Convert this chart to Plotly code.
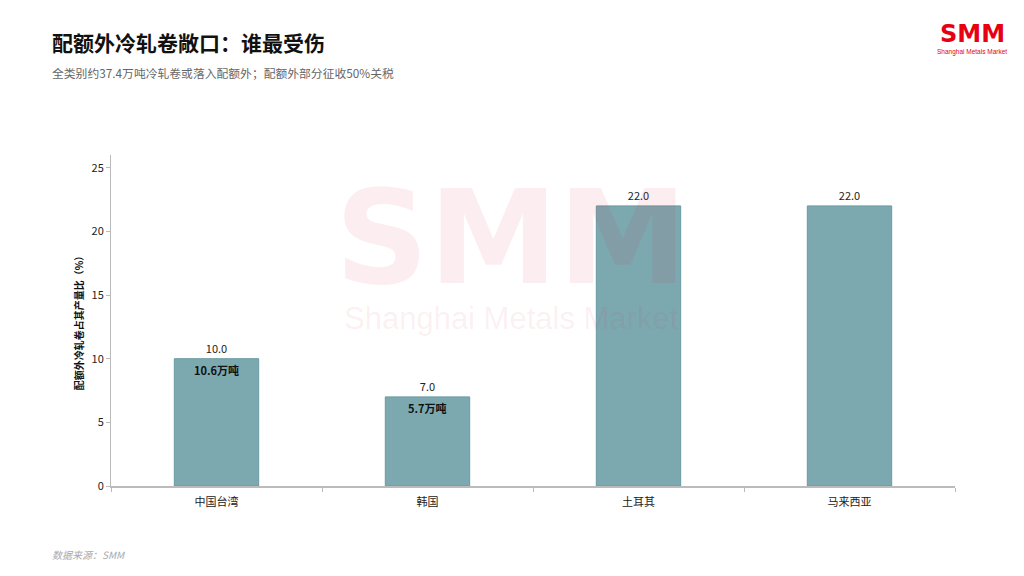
import plotly.graph_objects as go

# data
regions = ["中国台湾", "韩国", "土耳其", "马来西亚"]
share_pct = [10.0, 7.0, 22.0, 22.0]
tonnage = ["10.6万吨", "5.7万吨", "", ""]

title = "配额外冷轧卷敞口：谁最受伤"
subtitle = "全类别约37.4万吨冷轧卷或落入配额外；配额外部分征收50%关税"
ytitle = "配额外冷轧卷占其产量比（%）"
source = "数据来源：SMM"

FONT = "Noto Sans CJK SC"

# plot area in pixels
L, R, T, B = 111, 69, 155, 90


def px_x(px):
    return (px - L) / (1024 - L - R)


def px_y(py):
    return (576 - B - py) / (576 - T - B)


fig = go.Figure()
fig.add_trace(go.Bar(
    x=regions,
    y=share_pct,
    width=0.4,
    marker=dict(color="#7ca8b0", line=dict(color="#6a9aa3", width=1)),
    text=[f"{v:.1f}" for v in share_pct],
    textposition="outside",
    textfont=dict(size=11, color="#222222", family=FONT),
    cliponaxis=False,
    hoverinfo="x+y",
))

# tonnage labels inside bars
for r, v, t in zip(regions, share_pct, tonnage):
    if t:
        fig.add_annotation(x=r, y=v, xref="x", yref="y", text=f"<b>{t}</b>", showarrow=False,
                           yanchor="top", yshift=-1,
                           font=dict(size=11, color="#111111", family=FONT))

# watermark (sits over the plot, like the reference)
fig.add_annotation(x=px_x(511), y=px_y(238), xref="paper", yref="paper", text="<b>SMM</b>",
                   showarrow=False, xanchor="center", yanchor="middle",
                   font=dict(size=130, color="rgba(220,40,60,0.08)", family="DejaVu Sans"))
fig.add_annotation(x=px_x(511), y=px_y(318), xref="paper", yref="paper",
                   text="Shanghai Metals Market", showarrow=False,
                   xanchor="center", yanchor="middle",
                   font=dict(size=31, color="rgba(220,40,60,0.08)", family="Liberation Sans"))

# title, subtitle, source, logo
fig.add_annotation(x=px_x(50), y=px_y(42), xref="paper", yref="paper", showarrow=False,
                   text=f"<b>{title}</b>", xanchor="left", yanchor="middle",
                   font=dict(size=21, color="#111111", family=FONT))
fig.add_annotation(x=px_x(50), y=px_y(72), xref="paper", yref="paper", showarrow=False,
                   text=subtitle, xanchor="left", yanchor="middle",
                   font=dict(size=11.8, color="#666666", family=FONT))
fig.add_annotation(x=px_x(50), y=px_y(554), xref="paper", yref="paper", showarrow=False,
                   text=f"<i>{source}</i>", xanchor="left", yanchor="middle",
                   font=dict(size=10, color="#aaaaaa", family=FONT))
fig.add_annotation(x=px_x(972), y=px_y(34), xref="paper", yref="paper", showarrow=False,
                   text="<b>SMM</b>", xanchor="center", yanchor="middle",
                   font=dict(size=24, color="#e60012", family="DejaVu Sans"))
fig.add_annotation(x=px_x(972), y=px_y(52), xref="paper", yref="paper", showarrow=False,
                   text="Shanghai Metals Market", xanchor="center", yanchor="middle",
                   font=dict(size=6.5, color="#e60012", family="Liberation Sans"))

fig.update_layout(
    width=1024, height=576,
    margin=dict(l=L, r=R, t=T, b=B),
    paper_bgcolor="white", plot_bgcolor="white",
    font=dict(family=FONT, color="#333333"),
    showlegend=False,
    xaxis=dict(
        automargin=False,
        showline=True, linecolor="#bbbbbb", linewidth=1.5,
        ticks="outside", tickson="boundaries", ticklen=4, tickcolor="#bbbbbb",
        tickfont=dict(size=11, color="#222222"), ticklabelstandoff=5,
        showgrid=False,
    ),
    yaxis=dict(
        automargin=False,
        range=[0, 26], tickvals=[0, 5, 10, 15, 20, 25],
        showline=True, linecolor="#bbbbbb", linewidth=1,
        ticks="outside", ticklen=4, tickcolor="#bbbbbb",
        tickfont=dict(size=11, color="#222222"),
        showgrid=False, zeroline=False,
        title=dict(text=f"<b>{ytitle}</b>", font=dict(size=10, color="#111111"), standoff=6),
    ),
)

# drop the browser's default body margin so the chart sits at the page corner
fig.write_html("out.html", config={"displayModeBar": False},
               post_script="document.body.style.margin='0';")
